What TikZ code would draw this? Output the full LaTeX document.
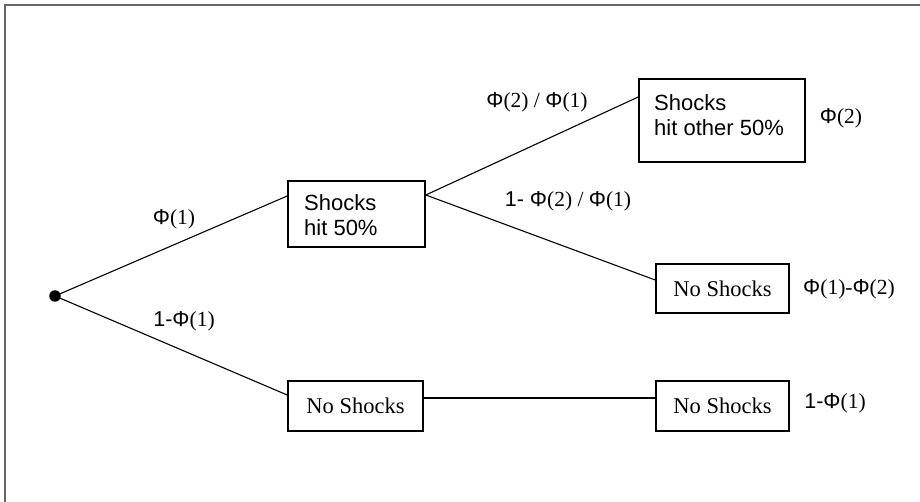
\documentclass[tikz,border=0pt]{standalone}
\usepackage{fontspec}
\setmainfont{Liberation Serif}
\setsansfont{Liberation Sans}
\usetikzlibrary{calc}
\newcommand\Ph{{\sffamily Φ}}
\begin{document}
\begin{tikzpicture}[x=1pt,y=-1pt,
  box/.style={draw, line width=1.6pt, inner sep=0pt},
  conn/.style={line width=1.1pt},
  lab/.style={inner sep=0pt, font=\fontsize{21.5}{25}\selectfont},
  nstxt/.style={font=\fontsize{22.5}{25}\selectfont},
  boxtxt/.style={inner sep=0pt, align=left, anchor=west, font=\sffamily\fontsize{22}{25}\selectfont},
  frameline/.style={draw=black!60, line width=1.8pt}]
\useasboundingbox (0,0) rectangle (920,502);
\draw[frameline] (5,502) -- (5,5) -- (920,5);

% root
\node[circle, fill, inner sep=0pt, minimum size=11.5pt] (root) at (55,296) {};

% boxes
\node[box, minimum width=137, minimum height=66] (b1) at (356.5,214) {};
\node[boxtxt] (t1) at (304,215) {Shocks\\hit 50\%};
\node[box, minimum width=166, minimum height=83] (b2) at (722,120.5) {};
\node[boxtxt] (t2) at (654,115) {Shocks\\hit other 50\%};
\node[box, nstxt, minimum width=133, minimum height=49] (n1) at (722.5,288.5) {No Shocks};
\node[box, nstxt, minimum width=135, minimum height=50] (n2) at (355.5,406) {No Shocks};
\node[box, nstxt, minimum width=133, minimum height=50] (n3) at (722.5,406) {No Shocks};

% connectors
\draw[conn] (root.center) -- ($(b1.west)+(0,-18)$);
\draw[conn] (root.center) -- ($(n2.west)+(0,-11)$);
\draw[conn] ($(b1.east)+(0,-19)$) -- ($(b2.west)+(0,-23.5)$);
\draw[conn] ($(b1.east)+(0,-19)$) -- ($(n1.west)+(0,-8.5)$);
\draw[conn] ($(n2.east)+(0,-8)$) -- ($(n3.west)+(0,-8)$);

% labels
\node[lab] (l1) at (174,219) {\Ph(1)};
\node[lab] (l2) at (184,321) {{\sffamily 1-Φ}(1)};
\node[lab] (l3) at (537,102) {\Ph(2) / \Ph(1)};
\node[lab] (l4) at (568,201) {{\sffamily 1- Φ}(2) / \Ph(1)};
\node[lab] (l5) at (841,118) {\Ph(2)};
\node[lab] (l6) at (849,289) {\Ph(1)-\Ph(2)};
\node[lab] (l7) at (835,403) {{\sffamily 1-Φ}(1)};
\end{tikzpicture}
\end{document}
